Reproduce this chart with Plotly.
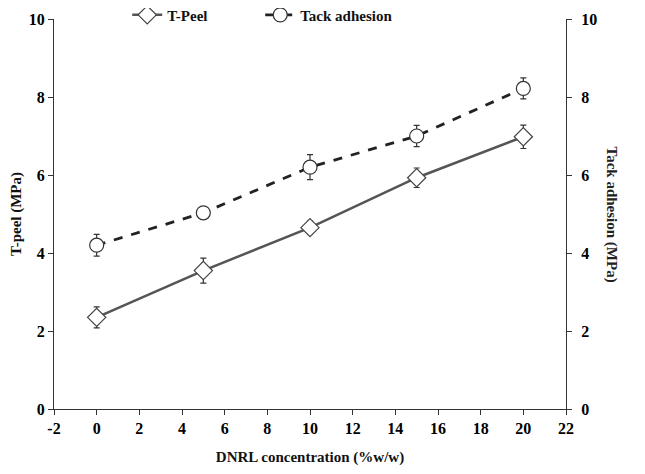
import plotly.graph_objects as go

conc = [0, 5, 10, 15, 20]
tpeel = [2.35, 3.55, 4.65, 5.93, 6.98]
tpeel_err = [0.27, 0.32, 0.17, 0.25, 0.3]
tack = [4.2, 5.03, 6.2, 7.0, 8.22]
tack_err = [0.28, 0.1, 0.32, 0.27, 0.27]
x_ticks = [-2, 0, 2, 4, 6, 8, 10, 12, 14, 16, 18, 20, 22]
y_ticks = [0, 2, 4, 6, 8, 10]

FONT = "Liberation Serif"
AX = "#333333"

fig = go.Figure()
fig.add_trace(go.Scatter(
    x=conc, y=tpeel, name="T-Peel", mode="lines+markers",
    line=dict(color="#555555", width=2.5),
    marker=dict(symbol="diamond", size=14, color="white", line=dict(color="#444444", width=1.2)),
    error_y=dict(type="data", array=tpeel_err, color="#333333", thickness=1.2, width=3),
    yaxis="y",
))
fig.add_trace(go.Scatter(
    x=conc, y=tack, name="Tack adhesion", mode="lines+markers",
    line=dict(color="#222222", width=2.8, dash="dash"),
    marker=dict(symbol="circle", size=14, color="white", line=dict(color="#333333", width=1.2)),
    error_y=dict(type="data", array=tack_err, color="#333333", thickness=1.2, width=3),
    yaxis="y2",
))

tickfont = dict(family=FONT, size=16, color="#000000", weight="bold")
xt = ["<b>%d</b>" % v for v in x_ticks]
yt = ["<b>%d</b>" % v for v in y_ticks]
fig.update_layout(
    width=629, height=458,
    margin=dict(l=46, r=71, t=11, b=57, autoexpand=False),
    paper_bgcolor="white", plot_bgcolor="white",
    font=dict(family=FONT, size=15, color="#111111"),
    showlegend=True,
    legend=dict(orientation="h", x=0.143, y=1.01, xanchor="left", yanchor="middle",
                font=dict(family=FONT, size=15, color="#111111", weight="bold"),
                bgcolor="rgba(0,0,0,0)", entrywidth=88, entrywidthmode="pixels",
                tracegroupgap=0),
    xaxis=dict(range=[-2, 22], tickmode="array", tickvals=x_ticks, ticktext=xt,
               showgrid=False, zeroline=False, automargin=False,
               showline=True, linecolor=AX, linewidth=1.2, ticks="outside", ticklen=5,
               tickcolor=AX, tickfont=tickfont,
               title=dict(text="DNRL concentration (%w/w)", font=dict(family=FONT, size=15, weight="bold"), standoff=17)),
    yaxis=dict(range=[0, 10], tickmode="array", tickvals=y_ticks, ticktext=yt,
               showgrid=False, zeroline=False, automargin=False,
               showline=True, linecolor=AX, linewidth=1.2, ticks="outside", ticklen=5,
               tickcolor=AX, tickfont=tickfont,
               title=dict(text="T-peel (MPa)", font=dict(family=FONT, size=15, weight="bold"), standoff=12)),
    yaxis2=dict(range=[0, 10], tickmode="array", tickvals=y_ticks, ticktext=yt,
                overlaying="y", side="right", showgrid=False, zeroline=False,
                automargin=False, ticklabelstandoff=6,
                showline=True, linecolor=AX, linewidth=1.2, ticks="outside", ticklen=5,
                tickcolor=AX, tickfont=tickfont),
)
fig.add_annotation(text="Tack adhesion (MPa)", xref="paper", yref="paper",
                   x=1.0, xshift=56, y=0.5, textangle=90, showarrow=False,
                   font=dict(family=FONT, size=15, color="#222222", weight="bold"))

fig.write_html("out.html")
